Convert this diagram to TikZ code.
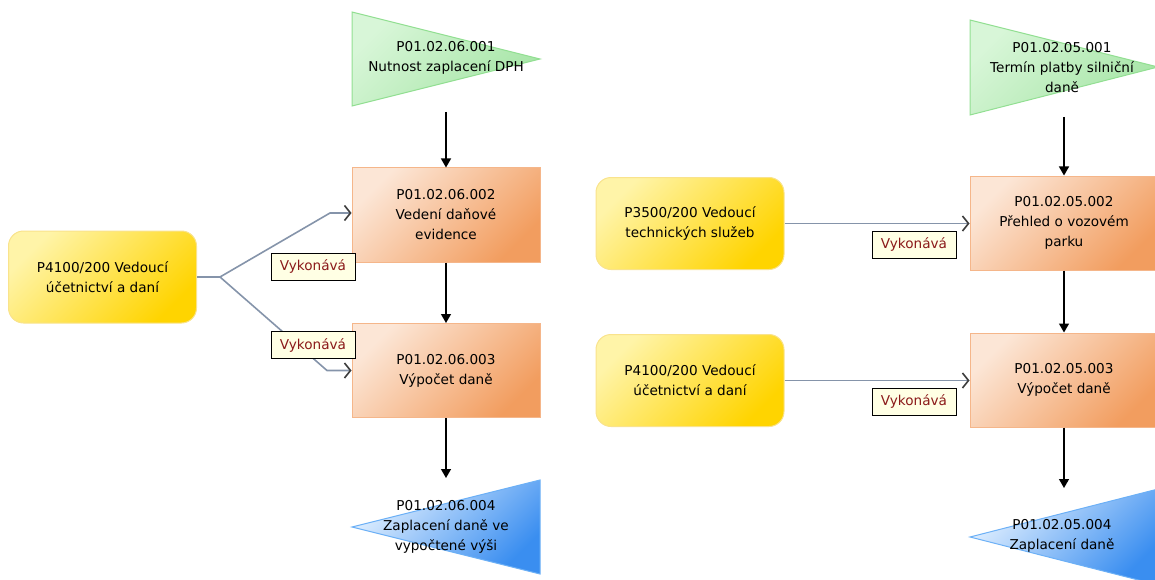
\documentclass[tikz,border=0pt]{standalone}
\usepackage{fontspec}
\setmainfont{DejaVu Sans}
\usetikzlibrary{arrows.meta}

\definecolor{orangeL}{HTML}{FCE6D6}
\definecolor{orangeD}{HTML}{F29D5F}
\definecolor{orangeB}{HTML}{F5B68A}
\definecolor{yellowL}{HTML}{FFF4A8}
\definecolor{yellowD}{HTML}{FFD400}
\definecolor{yellowB}{HTML}{F9E38C}
\definecolor{greenL}{HTML}{D8F6D8}
\definecolor{greenD}{HTML}{A6E5A6}
\definecolor{greenB}{HTML}{92DF92}
\definecolor{blueL}{HTML}{E2F0FF}
\definecolor{blueD}{HTML}{3A8EF0}
\definecolor{blueB}{HTML}{6CB0F6}
\definecolor{connC}{HTML}{8594AA}
\definecolor{arrC}{HTML}{3C3C3C}
\definecolor{tagfill}{HTML}{FFFFE4}
\definecolor{tagtext}{HTML}{8B1A1A}

\tikzset{
  proc/.style={draw=orangeB, line width=1pt, top color=orangeL, bottom color=orangeD,
    shading angle=45, minimum width=188pt, minimum height=94pt, align=center, inner sep=0pt},
  role/.style={draw=yellowB, line width=1pt, rounded corners=15pt, top color=yellowL,
    bottom color=yellowD, shading angle=45, minimum width=188pt, minimum height=92pt,
    align=center, inner sep=0pt},
  startev/.style={draw=greenB, line width=1pt, top color=greenL, bottom color=greenD, shading angle=45},
  endev/.style={draw=blueB, line width=1pt, top color=blueL, bottom color=blueD, shading angle=45},
  evtext/.style={align=center, inner sep=0pt},
  tag/.style={draw=black, line width=1pt, fill=tagfill, text=tagtext, minimum width=84pt,
    minimum height=27pt, inner sep=0pt},
  flow/.style={line width=1.3pt, -{Triangle[length=9pt,width=10pt]}},
  conn/.style={draw=connC, line width=1.6pt, -{Straight Barb[length=6pt,width=15pt,color=arrC]}}
}

\begin{document}
\begin{tikzpicture}[x=1pt, y=-1pt, font=\fontsize{13.6}{20}\selectfont]
\useasboundingbox (0,0) rectangle (1155,580);
\clip (0,0) rectangle (1155,580);

% ---------- left process chain ----------
\path[startev] (352,12) -- (352,106) -- (540,59) -- cycle;
\node[evtext] (g1) at (446,57.5) {P01.02.06.001\\Nutnost zaplacení DPH};

\node[proc] (b2) at (446,215) {P01.02.06.002\\Vedení daňové\\evidence};
\node[proc] (b3) at (446,370.5) {P01.02.06.003\\Výpočet daně};

\path[endev] (352,527) -- (540,480) -- (540,574) -- cycle;
\node[evtext] (e1) at (446,527) {P01.02.06.004\\Zaplacení daně ve\\vypočtené výši};

\coordinate (g1out) at (446,112);
\coordinate (e1in) at (446,478);
\draw[flow] (g1out) -- (b2.north);
\draw[flow] (b2.south) -- (b3.north);
\draw[flow] (b3.south) -- (e1in);

\node[role] (yL) at (102.5,277) {P4100/200 Vedoucí\\účetnictví a daní};
\coordinate (fork) at (220,277);
\draw[conn] (yL.east) -- (fork) -- (330,213) -- (b2.west |- 0,213);
\draw[conn] (fork) -- (327,370.5) -- (b3.west);

\node[tag] (t1) at (313,266.5) {Vykonává};
\node[tag] (t2) at (313,345) {Vykonává};

% ---------- right process chain ----------
\path[startev] (970,20) -- (970,115) -- (1158,67) -- cycle;
\node[evtext] (g2) at (1062,67.5) {P01.02.05.001\\Termín platby silniční\\daně};

\node[proc] (r2) at (1064,223) {P01.02.05.002\\Přehled o vozovém\\parku};
\node[proc] (r3) at (1064,380) {P01.02.05.003\\Výpočet daně};

\path[endev] (970,537) -- (1158,489) -- (1158,585) -- cycle;
\node[evtext] (e2) at (1062,536) {P01.02.05.004\\Zaplacení daně};

\coordinate (g2out) at (1064,117);
\coordinate (e2in) at (1064,488);
\draw[flow] (g2out) -- (r2.north);
\draw[flow] (r2.south) -- (r3.north);
\draw[flow] (r3.south) -- (e2in);

\node[role] (yR1) at (690,223.5) {P3500/200 Vedoucí\\technických služeb};
\node[role] (yR2) at (690,380.5) {P4100/200 Vedoucí\\účetnictví a daní};
\draw[conn] (yR1.east) -- (yR1.east -| r2.west);
\draw[conn] (yR2.east) -- (yR2.east -| r3.west);

\node[tag] (t3) at (914,244.5) {Vykonává};
\node[tag] (t4) at (914,401.5) {Vykonává};
\end{tikzpicture}
\end{document}
